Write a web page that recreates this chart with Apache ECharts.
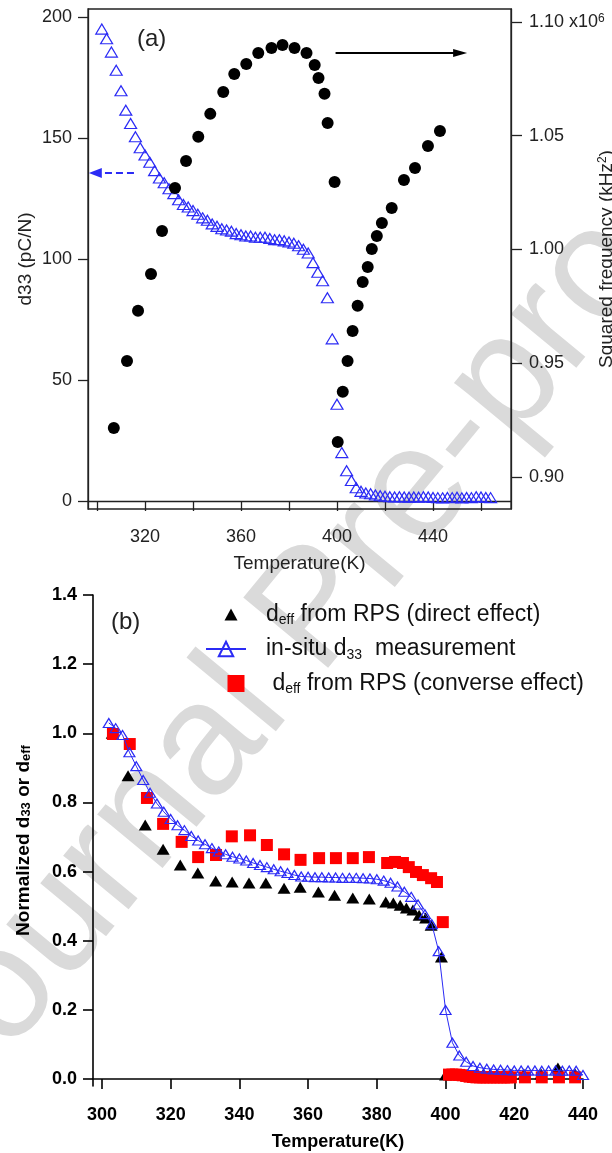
<!DOCTYPE html>
<html>
<head>
<meta charset="utf-8">
<script src="https://cdn.jsdelivr.net/npm/echarts@6/dist/echarts.min.js"></script>
<style>
  html, body { margin: 0; padding: 0; background: #fff; }
  #main { width: 612px; height: 1153px; }
</style>
</head>
<body>
<div id="main"></div>
<script>
var chartDom = document.getElementById('main')
var myChart = echarts.init(chartDom)
var option

// ---- panel (a) ----
// squared resonance frequency (x10^6 kHz^2), right axis
let freqT = [307.0, 312.5, 317.1, 322.5, 327.1, 332.5, 337.1, 342.2, 347.2, 352.6, 357.2, 362.2, 367.2, 372.7, 377.3, 382.3, 387.3, 390.7, 392.3, 394.8, 396.1, 399.0,
  400.3, 402.4, 404.4, 406.5, 408.6, 410.7, 412.8, 414.5, 416.6, 418.7, 422.8, 427.9, 432.5, 437.9, 442.9]
let freqV = [0.9215, 0.9510, 0.9730, 0.9892, 1.0081, 1.0270, 1.0389, 1.0495, 1.0596, 1.0692, 1.0771, 1.0815, 1.0864, 1.0886, 1.0899, 1.0886, 1.0864, 1.0811, 1.0754, 1.0684, 1.0556, 1.0297,
  0.9154, 0.9374, 0.9510, 0.9642, 0.9752, 0.9857, 0.9923, 1.0002, 1.0059, 1.0116, 1.0182, 1.0305, 1.0358, 1.0455, 1.0521]

// in-situ d33 (pC/N), left axis
let d33T = [302, 304, 306, 308, 310, 312, 314, 316, 318, 320, 322, 324, 326, 328, 330, 332, 334, 336, 338, 340,
  342, 344, 346, 348, 350, 352, 354, 356, 358, 360, 362, 364, 366, 368, 370, 372, 374, 376, 378, 380,
  382, 384, 386, 388, 390, 392, 394, 396, 398, 400, 402, 404, 406, 408, 410, 412, 414, 416, 418, 420,
  422, 424, 426, 428, 430, 432, 434, 436, 438, 440, 442, 444, 446, 448, 450, 452, 454, 456, 458, 460, 462, 464]
let d33V = [195, 191, 185.5, 178, 169.5, 161.5, 156, 150.5, 146, 143, 140, 136.5, 133.5, 131.5, 129, 127, 124.5, 122.5, 121.5, 120,
  118.5, 117, 116, 114.5, 113.5, 112.5, 112, 111.5, 110.5, 110, 109.5, 109.5, 109, 109, 109, 108.5, 108, 108, 107.5, 107,
  106.5, 105.5, 104, 102.5, 98.5, 94.5, 91, 84, 67, 40, 20, 12.5, 8.5, 5.5, 4, 3.3, 3, 2.5, 2.2, 2,
  1.8, 1.7, 1.8, 1.7, 1.6, 1.7, 1.6, 1.8, 1.7, 1.5, 1.4, 1.3, 1.5, 1.4, 1.6, 1.3, 1.5, 1.4, 1.8, 1.7, 1.5, 1.4]

let aTempTicks = [300, 320, 340, 360, 380, 400, 420, 440, 460]
let aTempLabels = [320, 360, 400, 440]
let aD33Ticks = [0, 50, 100, 150, 200]
let aFreqTicks = [0.90, 0.95, 1.00, 1.05, 1.10]

// ---- panel (b) ----
let directT = [303, 307.6, 312.6, 317.8, 322.8, 327.9, 333.1, 337.9, 342.8, 347.7, 353, 357.7, 363, 367.7, 373, 377.8, 382.6, 384.8, 386.8, 388.6,
  390.5, 392.3, 394.2, 395.8, 398.8, 400, 403.3, 409, 411, 413, 415, 417, 419, 422.8, 427.8, 432.7, 437.7]
let directV = [1.0, 0.877, 0.735, 0.665, 0.619, 0.596, 0.573, 0.570, 0.567, 0.567, 0.552, 0.555, 0.541, 0.532, 0.524, 0.521, 0.512, 0.509, 0.503, 0.495,
  0.489, 0.474, 0.466, 0.445, 0.353, 0.012, 0.015, 0.015, 0.015, 0.015, 0.015, 0.015, 0.015, 0.015, 0.015, 0.032, 0.015]

let insituT = [302, 304, 306, 308, 310, 312, 314, 316, 318, 320, 322, 324, 326, 328, 330, 332, 334, 336, 338, 340,
  342, 344, 346, 348, 350, 352, 354, 356, 358, 360, 362, 364, 366, 368, 370, 372, 374, 376, 378, 380,
  382, 384, 386, 388, 390, 392, 394, 396, 398, 400, 402, 404, 406, 408, 410, 412, 414, 416, 418, 420,
  422, 424, 426, 428, 430, 432, 434, 436, 438, 440]
let insituV = [1.03, 1.015, 0.995, 0.945, 0.905, 0.865, 0.828, 0.797, 0.773, 0.752, 0.734, 0.72, 0.703, 0.69, 0.679, 0.668, 0.658, 0.65, 0.643, 0.638,
  0.632, 0.625, 0.619, 0.613, 0.607, 0.601, 0.596, 0.590, 0.586, 0.585, 0.584, 0.584, 0.583, 0.583, 0.582, 0.582, 0.582, 0.581, 0.58, 0.578,
  0.574, 0.568, 0.557, 0.542, 0.527, 0.505, 0.477, 0.448, 0.37, 0.2, 0.105, 0.068, 0.05, 0.038, 0.033, 0.03, 0.028, 0.027, 0.026, 0.025,
  0.025, 0.025, 0.025, 0.024, 0.025, 0.025, 0.024, 0.025, 0.024, 0.012]

let converseT = [303.2, 308.1, 313.1, 317.8, 323.2, 328, 333.2, 337.8, 343.1, 348, 353, 357.8, 363.2, 368.1, 373, 377.7, 383, 385.3, 387.6, 389.3,
  391.4, 393.4, 395.8, 397.5, 399.2, 401, 402, 403, 404, 405, 406, 407, 408, 409, 410, 411, 412, 413, 414, 415,
  416, 417, 418, 419, 423.1, 428, 433, 437.7]
let converseV = [0.998, 0.969, 0.813, 0.738, 0.686, 0.642, 0.648, 0.702, 0.705, 0.677, 0.650, 0.634, 0.639, 0.639, 0.639, 0.642, 0.625, 0.628, 0.625, 0.613,
  0.599, 0.590, 0.581, 0.570, 0.454, 0.013, 0.013, 0.013, 0.012, 0.011, 0.009, 0.007, 0.006, 0.005, 0.005, 0.005, 0.005, 0.005, 0.005, 0.005,
  0.005, 0.005, 0.005, 0.005, 0.005, 0.005, 0.005, 0.005]

let bTempTicks = [300, 320, 340, 360, 380, 400, 420, 440]
let bNormTicks = [0, 0.2, 0.4, 0.6, 0.8, 1.0, 1.2, 1.4]

let zip = (xs, ys) => xs.map((x, i) => [x, ys[i]])

const FONT = 'Liberation Sans, Arial, sans-serif'
const BLUE = '#2b2bf5'
const INK = '#222'

let legendText = {
  direct: '{gap|}{t|d}{sub|eff}{t| from RPS (direct effect)}',
  insitu: '{gap|}{t|in-situ d}{sub|33}{t|  measurement}',
  converse: '{gap|}{t| d}{sub|eff}{t| from RPS (converse effect)}'
}
// legend glyphs: extra moveTo points pad the box so the marker sits where the original has it
let triIcon = 'path://M-10,0M2.5,15L9,3L15.5,15ZM18,18'
let sqIcon = 'path://M-20,0M0.5,0.5L17.5,0.5L17.5,17.5L0.5,17.5ZM18,18'

option = {
  animation: false,
  backgroundColor: '#fff',
  textStyle: { fontFamily: FONT },
  title: [
    { text: '(a)', left: 132, top: 22, textStyle: { fontSize: 24, fontWeight: 'normal', color: INK, fontFamily: FONT } },
    { text: '(b)', left: 106, top: 605, textStyle: { fontSize: 24, fontWeight: 'normal', color: INK, fontFamily: FONT } }
  ],
  graphic: [
    {
      type: 'text',
      x: 317,
      y: 612,
      rotation: 0.88,
      z: -10,
      silent: true,
      style: {
        text: 'Journal Pre-proof',
        fontSize: 160,
        fontFamily: FONT,
        fill: '#dadada',
        align: 'center',
        verticalAlign: 'middle'
      }
    }
  ],
  legend: {
    data: [
      { name: 'direct', icon: triIcon },
      { name: 'insitu' },
      { name: 'converse', icon: sqIcon }
    ],
    orient: 'vertical',
    left: 200,
    top: 598,
    itemWidth: 40,
    itemHeight: 18,
    itemGap: 10,
    symbolKeepAspect: true,
    selectedMode: false,
    formatter: name => legendText[name],
    textStyle: {
      color: '#111',
      rich: {
        gap: { width: 15 },
        t: { fontSize: 23, fontFamily: FONT, color: '#111', lineHeight: 26 },
        sub: { fontSize: 14, fontFamily: FONT, color: '#111', lineHeight: 12, verticalAlign: 'bottom' }
      }
    }
  },
  grid: [
    { left: 88, top: 9, width: 423, height: 500, show: true, borderColor: INK, borderWidth: 1.3, outerBoundsMode: 'none', containLabel: false },
    { left: 93, top: 595, width: 490, height: 491, outerBoundsMode: 'none', containLabel: false }
  ],
  xAxis: [
    {
      gridIndex: 0,
      type: 'value',
      min: 296.25,
      max: 472.5,
      axisLine: { show: true, lineStyle: { color: INK, width: 1.3 } },
      axisTick: { show: true, inside: false, length: 10, customValues: aTempTicks, lineStyle: { color: INK, width: 1.3 } },
      axisLabel: { customValues: aTempLabels, fontSize: 18, color: INK, margin: 19, fontFamily: FONT },
      splitLine: { show: false },
      name: 'Temperature(K)',
      nameLocation: 'middle',
      nameGap: 45,
      nameMoveOverlap: false,
      nameTextStyle: { fontSize: 19, color: INK, fontFamily: FONT }
    },
    {
      gridIndex: 1,
      type: 'value',
      min: 297.4,
      max: 440,
      axisLine: { show: true, lineStyle: { color: '#000', width: 1.6 } },
      axisTick: { show: true, inside: false, length: 10, customValues: bTempTicks, lineStyle: { color: '#000', width: 1.6 } },
      axisLabel: { customValues: bTempTicks, fontSize: 18, fontWeight: 'bold', color: '#000', margin: 20, fontFamily: FONT },
      splitLine: { show: false },
      name: 'Temperature(K)',
      nameLocation: 'middle',
      nameGap: 47,
      nameMoveOverlap: false,
      nameTextStyle: { fontSize: 18, fontWeight: 'bold', color: '#000', fontFamily: FONT }
    }
  ],
  yAxis: [
    {
      gridIndex: 0,
      type: 'value',
      position: 'left',
      min: -3.3,
      max: 203.3,
      axisLine: { show: true, lineStyle: { color: INK, width: 1.3 } },
      axisTick: { show: true, inside: false, length: 10, customValues: aD33Ticks, lineStyle: { color: INK, width: 1.3 } },
      axisLabel: { customValues: aD33Ticks, fontSize: 18, color: INK, margin: 16, fontFamily: FONT },
      splitLine: { show: false },
      name: 'd33 (pC/N)',
      nameLocation: 'middle',
      nameGap: 53,
      nameMoveOverlap: false,
      nameTextStyle: { fontSize: 19, color: INK, fontFamily: FONT }
    },
    {
      gridIndex: 0,
      type: 'value',
      position: 'right',
      min: 0.8859,
      max: 1.1057,
      axisLine: { show: true, lineStyle: { color: INK, width: 1.3 } },
      axisTick: { show: true, inside: false, length: 11, customValues: aFreqTicks, lineStyle: { color: INK, width: 1.3 } },
      axisLabel: {
        customValues: aFreqTicks,
        fontSize: 18,
        color: INK,
        margin: 18,
        fontFamily: FONT,
        formatter: v => (Math.abs(v - 1.1) < 1e-6 ? '{n|1.10 x10}{sup|6}' : '{n|' + v.toFixed(2) + '}'),
        rich: {
          n: { fontSize: 18, color: INK, fontFamily: FONT },
          sup: { fontSize: 12, color: INK, fontFamily: FONT, verticalAlign: 'top', lineHeight: 12, padding: [0, 0, 10, 0] }
        }
      },
      splitLine: { show: false },
      name: 'Squared frequency (kHz{sup|2})',
      nameLocation: 'middle',
      nameGap: 86,
      nameMoveOverlap: false,
      nameTextStyle: {
        fontSize: 19,
        color: INK,
        fontFamily: FONT,
        rich: { sup: { fontSize: 12, color: INK, verticalAlign: 'top', lineHeight: 10, padding: [0, 0, 8, 0] } }
      }
    },
    {
      gridIndex: 1,
      type: 'value',
      min: -0.02,
      max: 1.4,
      axisLine: { show: true, lineStyle: { color: '#000', width: 1.6 } },
      axisTick: { show: true, inside: false, length: 10, customValues: bNormTicks, lineStyle: { color: '#000', width: 1.6 } },
      axisLabel: {
        customValues: bNormTicks,
        fontSize: 18,
        fontWeight: 'bold',
        color: '#000',
        margin: 16,
        fontFamily: FONT,
        formatter: v => v.toFixed(1)
      },
      splitLine: { show: false },
      name: 'Normalized d{sub|33} or d{sub|eff}',
      nameLocation: 'middle',
      nameGap: 60,
      nameMoveOverlap: false,
      nameTextStyle: {
        fontSize: 19,
        fontWeight: 'bold',
        color: '#000',
        fontFamily: FONT,
        rich: { sub: { fontSize: 13, fontWeight: 'bold', color: '#000', fontFamily: FONT, verticalAlign: 'bottom', lineHeight: 12 } }
      }
    }
  ],
  series: [
    {
      name: 'insitu_a',
      type: 'scatter',
      xAxisIndex: 0,
      yAxisIndex: 0,
      symbol: 'triangle',
      symbolSize: [12, 10],
      itemStyle: { color: 'rgba(0,0,0,0)', borderColor: BLUE, borderWidth: 1.2, opacity: 1 },
      data: zip(d33T, d33V),
      markLine: {
        silent: true,
        symbol: ['none', 'triangle'],
        symbolSize: [10, 13],
        label: { show: false },
        lineStyle: { color: BLUE, width: 2, type: [7, 4] },
        data: [[{ coord: [315.4, 135.5] }, { coord: [299.3, 135.5] }]]
      }
    },
    {
      name: 'freq',
      type: 'scatter',
      xAxisIndex: 0,
      yAxisIndex: 1,
      symbol: 'circle',
      symbolSize: 12,
      itemStyle: { color: '#000', opacity: 1 },
      data: zip(freqT, freqV),
      markLine: {
        silent: true,
        symbol: ['none', 'triangle'],
        symbolSize: [8, 14],
        label: { show: false },
        lineStyle: { color: '#000', width: 2, type: 'solid' },
        data: [[{ coord: [399.4, 1.0864] }, { coord: [451.3, 1.0864] }]]
      }
    },
    {
      name: 'direct',
      type: 'scatter',
      xAxisIndex: 1,
      yAxisIndex: 2,
      symbol: 'triangle',
      symbolSize: [13, 11],
      itemStyle: { color: '#000', opacity: 1 },
      data: zip(directT, directV)
    },
    {
      name: 'insitu',
      type: 'line',
      xAxisIndex: 1,
      yAxisIndex: 2,
      symbol: 'triangle',
      symbolSize: [11, 9],
      showAllSymbol: true,
      lineStyle: { color: BLUE, width: 1 },
      itemStyle: { color: 'rgba(0,0,0,0)', borderColor: BLUE, borderWidth: 1.2 },
      data: zip(insituT, insituV)
    },
    {
      name: 'converse',
      type: 'scatter',
      xAxisIndex: 1,
      yAxisIndex: 2,
      symbol: 'rect',
      symbolSize: 12,
      itemStyle: { color: '#ff0000', opacity: 1 },
      data: zip(converseT, converseV)
    }
  ]
}

option && myChart.setOption(option)
</script>
</body>
</html>
